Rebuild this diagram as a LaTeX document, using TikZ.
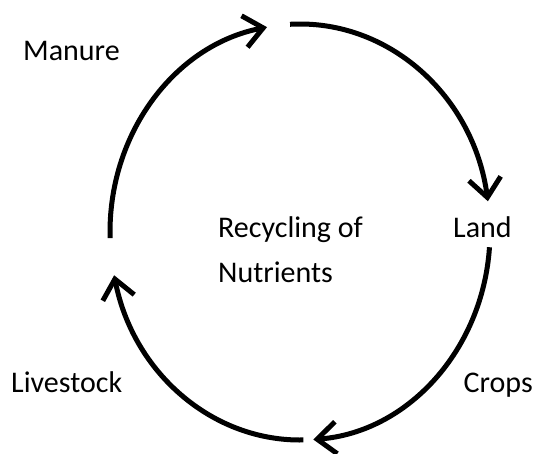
\documentclass[tikz,border=0pt]{standalone}
\usepackage{fontspec}
\setmainfont{Carlito}
\usetikzlibrary{arrows.meta,calc}
\begin{document}
\begin{tikzpicture}[x=1pt,y=-1pt,
  cyc/.style={line width=5pt,-{Straight Barb[length=19pt,width=32pt]}},
  lbl/.style={font=\fontsize{30}{45}\selectfont,inner sep=0pt,anchor=base west}]
\useasboundingbox (0,0) rectangle (536,453);
\coordinate (c) at (300,232);
\coordinate (a1) at ($(c)+(178.3:190 and 208)$);
\coordinate (b1) at ($(c)+(267:190 and 208)$);
\coordinate (c1) at ($(c)+(4.2:190 and 208)$);
\coordinate (d1) at ($(c)+(89:190 and 208)$);
\draw[cyc] (a1) arc[start angle=178.3,end angle=260,x radius=190,y radius=208];
\draw[cyc] (b1) arc[start angle=267,end angle=351.5,x radius=190,y radius=208];
\draw[cyc] (c1) arc[start angle=4.2,end angle=86,x radius=190,y radius=208];
\draw[cyc] (d1) arc[start angle=89,end angle=168,x radius=190,y radius=208];
\node[lbl] (manure) at (23,60) {Manure};
\node[lbl] (land) at (453,237) {Land};
\node[lbl,anchor=base east] (crops) at (533,392) {Crops};
\node[lbl] (livestock) at (11,392) {Livestock};
\node[lbl,align=left] (center) at (218,282) {Recycling of\\Nutrients};
\end{tikzpicture}
\end{document}
